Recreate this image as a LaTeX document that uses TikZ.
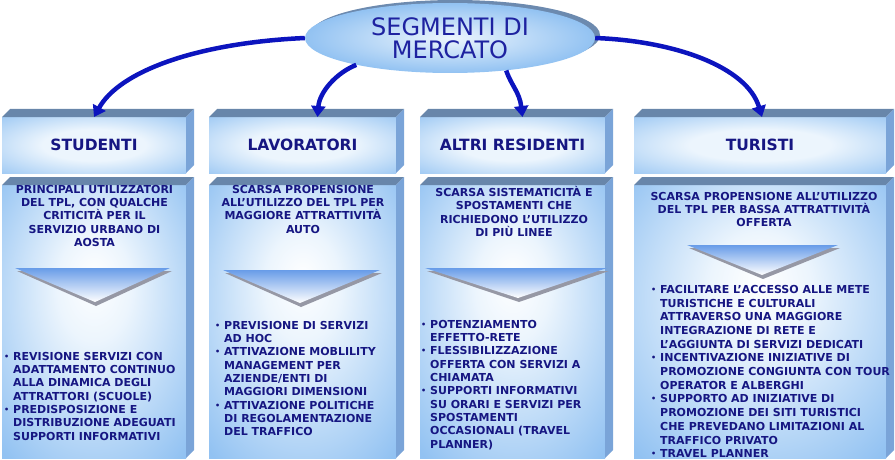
\documentclass[tikz,border=0pt]{standalone}
\usepackage{fontspec}
\setmainfont{DejaVu Sans}
\usetikzlibrary{arrows.meta,shapes.geometric,shadows}
\definecolor{boxblue}{RGB}{146,194,242}
\definecolor{glowwhite}{RGB}{236,245,253}
\definecolor{topface}{RGB}{104,134,170}
\definecolor{sideface}{RGB}{122,164,216}
\definecolor{arrowblue}{RGB}{12,20,190}
\definecolor{txtblue}{RGB}{22,22,130}
\definecolor{segblue}{RGB}{30,34,160}
\definecolor{rim}{RGB}{108,138,175}
\definecolor{triblue}{RGB}{104,156,232}
\definecolor{trishadow}{RGB}{150,152,165}
\pgfdeclareradialshading{hglow}{\pgfpoint{0bp}{0bp}}{color(0bp)=(glowwhite); color(14bp)=(glowwhite); color(40bp)=(boxblue); color(50bp)=(boxblue)}
\pgfdeclareradialshading{lglow}{\pgfpoint{0bp}{8bp}}{color(0bp)=(white); color(10bp)=(glowwhite); color(36bp)=(boxblue); color(50bp)=(boxblue)}
\newcommand{\bl}{\makebox[9pt][l]{\raisebox{1pt}{\fontsize{8}{8}\selectfont\textbullet}}}
\newcommand{\ind}{\hspace*{9pt}}

\begin{document}
\begin{tikzpicture}[x=1pt,y=-1pt,
    hbox/.style={shade, shading=hglow, inner sep=0, outer sep=0, minimum height=56, text=txtblue, font=\fontsize{15.5}{18}\selectfont\bfseries},
    lbox/.style={shade, shading=lglow, inner sep=0, outer sep=0, minimum height=273},
    txt/.style={inner sep=0, text=txtblue, font=\fontsize{11}{13.3}\selectfont\bfseries},
    arr/.style={draw=arrowblue, line width=4.5pt, -{Triangle[length=11pt,width=14pt]}}]
    \useasboundingbox (0,0) rectangle (895,460);
    % segmenti
    \node[ellipse, minimum width=290, minimum height=70, inner sep=0, shade, inner color=glowwhite, outer color=boxblue,
        drop shadow={shadow xshift=5pt, shadow yshift=3pt, fill=rim, opacity=1},
        align=center, text=segblue, font=\fontsize{24}{23}\selectfont] (seg) at (450,38) {SEGMENTI DI\\MERCATO};
    % intestazioni
    \node[hbox, minimum width=184] (hs) at (94,145) {STUDENTI};
    \node[hbox, minimum width=187] (hl) at (302.5,145) {LAVORATORI};
    \node[hbox, minimum width=185] (ha) at (512.5,145) {ALTRI RESIDENTI};
    \node[hbox, minimum width=252] (ht) at (760,145) {TURISTI};
    % riquadri
    \node[lbox, minimum width=184] (ls) at (94,321.5) {};
    \node[lbox, minimum width=187] (ll) at (302.5,321.5) {};
    \node[lbox, minimum width=185] (la) at (512.5,321.5) {};
    \node[lbox, minimum width=252] (lt) at (760,321.5) {};
    \foreach \n in {hs,hl,ha,ht,ls,ll,la,lt} {
        \fill[topface] (\n.north west) -- ++(8,-8) -- ([shift={(8,-8)}]\n.north east) -- (\n.north east) -- cycle;
        \fill[sideface] (\n.north east) -- ++(8,-8) -- ([shift={(8,-8)}]\n.south east) -- (\n.south east) -- cycle;
    }
    \foreach \a/\b/\t/\c/\d in {15/170/268/95/302, 223/380/270/300/303, 425/607/268/518/298, 687/838/245/762/275} {
        \fill[trishadow] (\a+2,\t+3) -- (\b+2,\t+3) -- (\c+1,\d+4) -- cycle;
        \shade[top color=triblue, bottom color=white] (\a,\t) -- (\b,\t) -- (\c,\d) -- cycle;
    }
    % testi
    \node[txt, align=center, anchor=north] (ts) at (94.5,185) {PRINCIPALI UTILIZZATORI\\DEL TPL, CON QUALCHE\\CRITICITÀ PER IL\\SERVIZIO URBANO DI\\AOSTA};
    \node[txt, align=center, anchor=north] (tl) at (303,185) {SCARSA PROPENSIONE\\ALL'UTILIZZO DEL TPL PER\\MAGGIORE ATTRATTIVITÀ\\AUTO};
    \node[txt, align=center, anchor=north] (ta) at (514,186) {SCARSA SISTEMATICITÀ E\\SPOSTAMENTI CHE\\RICHIEDONO L'UTILIZZO\\DI PIÙ LINEE};
    \node[txt, align=center, anchor=north] (tt) at (764,192) {SCARSA PROPENSIONE ALL'UTILIZZO\\DEL TPL PER BASSA ATTRATTIVITÀ\\OFFERTA};
    \node[txt, align=left, anchor=north west] (ms) at (4,352) {\bl REVISIONE SERVIZI CON\\\ind ADATTAMENTO CONTINUO\\\ind ALLA DINAMICA DEGLI\\\ind ATTRATTORI (SCUOLE)\\\bl PREDISPOSIZIONE E\\\ind DISTRIBUZIONE ADEGUATI\\\ind SUPPORTI INFORMATIVI};
    \node[txt, align=left, anchor=north west] (ml) at (215,321) {\bl PREVISIONE DI SERVIZI\\\ind AD HOC\\\bl ATTIVAZIONE MOBLILITY\\\ind MANAGEMENT PER\\\ind AZIENDE/ENTI DI\\\ind MAGGIORI DIMENSIONI\\\bl ATTIVAZIONE POLITICHE\\\ind DI REGOLAMENTAZIONE\\\ind DEL TRAFFICO};
    \node[txt, align=left, anchor=north west] (ma) at (421,320) {\bl POTENZIAMENTO\\\ind EFFETTO-RETE\\\bl FLESSIBILIZZAZIONE\\\ind OFFERTA CON SERVIZI A\\\ind CHIAMATA\\\bl SUPPORTI INFORMATIVI\\\ind SU ORARI E SERVIZI PER\\\ind SPOSTAMENTI\\\ind OCCASIONALI (TRAVEL\\\ind PLANNER)};
    \node[txt, align=left, anchor=north west, font=\fontsize{11}{13.7}\selectfont\bfseries] (mt) at (651,285) {\bl FACILITARE L'ACCESSO ALLE METE\\\ind TURISTICHE E CULTURALI\\\ind ATTRAVERSO UNA MAGGIORE\\\ind INTEGRAZIONE DI RETE E\\\ind L'AGGIUNTA DI SERVIZI DEDICATI\\\bl INCENTIVAZIONE INIZIATIVE DI\\\ind PROMOZIONE CONGIUNTA CON TOUR\\\ind OPERATOR E ALBERGHI\\\bl SUPPORTO AD INIZIATIVE DI\\\ind PROMOZIONE DEI SITI TURISTICI\\\ind CHE PREVEDANO LIMITAZIONI AL\\\ind TRAFFICO PRIVATO\\\bl TRAVEL PLANNER};
    % frecce
    \draw[arr] (seg.west) .. controls +(-110,5) and +(25,-45) .. (hs.north);
    \draw[arr] (seg.196) .. controls +(-20,8) and +(2,-25) .. ([xshift=15pt]hl.north);
    \draw[arr] (seg.-30) .. controls +(5,15) and +(-3,-25) .. ([xshift=10pt]ha.north);
    \draw[arr] (seg.east) .. controls +(80,3) and +(-15,-50) .. ([xshift=2pt]ht.north);
\end{tikzpicture}
\end{document}
